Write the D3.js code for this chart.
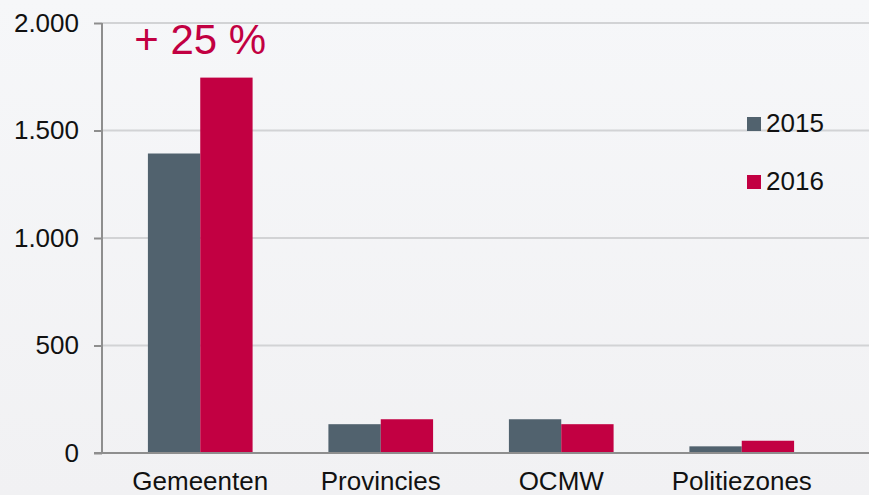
<!DOCTYPE html>
<html>
<head>
<meta charset="utf-8">
<script src="https://cdn.jsdelivr.net/npm/d3@7"></script>
<style>
  html, body { margin: 0; padding: 0; background: #f4f5f7; }
  svg { display: block; font-family: "Liberation Sans", Arial, sans-serif; }
</style>
</head>
<body>
<svg id="chart" width="869" height="495"></svg>
<script>
const categories = ['Gemeenten', 'Provincies', 'OCMW', 'Politiezones'];
const years = ['2015', '2016'];
const values2015 = [1393, 134, 157, 31];
const values2016 = [1746, 157, 134, 57];
const yTicks = [0, 500, 1000, 1500, 2000];
const yTickLabels = ['0', '500', '1.000', '1.500', '2.000'];
const annotation = '+ 25 %';

const colors = { '2015': '#51626e', '2016': '#c20042' };

const width = 869;
const height = 495;
const axisX = 102;

const svg = d3.select('#chart');

// Background
const defs = svg.append('defs');
const grad = defs.append('linearGradient')
  .attr('id', 'bg')
  .attr('x1', 0).attr('y1', 0).attr('x2', 0).attr('y2', 1);
grad.append('stop').attr('offset', '0%').attr('stop-color', '#f6f7f9');
grad.append('stop').attr('offset', '100%').attr('stop-color', '#f1f1f3');
svg.append('rect')
  .attr('width', width).attr('height', height)
  .attr('fill', 'url(#bg)');

const y = d3.scaleLinear()
  .domain([0, 2000])
  .range([453, 23]);

const x0 = d3.scaleBand()
  .domain(categories)
  .range([110, 832])
  .paddingInner(0.42)
  .paddingOuter(0.21);

const x1 = d3.scaleBand()
  .domain(years)
  .range([0, x0.bandwidth()]);

// Gridlines
svg.append('g')
  .selectAll('line')
  .data(yTicks.filter((d) => d > 0))
  .join('line')
  .attr('x1', axisX)
  .attr('x2', width)
  .attr('y1', (d) => y(d))
  .attr('y2', (d) => y(d))
  .attr('stroke', '#d2d3d5')
  .attr('stroke-width', 2);

// Bars
const rows = categories.map((c, i) => ({
  category: c,
  values: [
    { year: '2015', value: values2015[i] },
    { year: '2016', value: values2016[i] },
  ],
}));

svg.append('g')
  .selectAll('g')
  .data(rows)
  .join('g')
  .attr('transform', (d) => `translate(${x0(d.category)},0)`)
  .selectAll('rect')
  .data((d) => d.values)
  .join('rect')
  .attr('x', (d) => x1(d.year))
  .attr('y', (d) => y(d.value))
  .attr('width', x1.bandwidth())
  .attr('height', (d) => y(0) - y(d.value))
  .attr('fill', (d) => colors[d.year]);

// Y axis
const yAxis = svg.append('g')
  .attr('transform', `translate(${axisX},0)`)
  .call(d3.axisLeft(y)
    .tickValues(yTicks)
    .tickFormat((d, i) => yTickLabels[i])
    .tickSize(8)
    .tickPadding(15));
yAxis.select('.domain').attr('stroke', '#8e8e8e').attr('stroke-width', 2)
  .attr('d', `M0,${y(2000)}V${y(0)}`);
yAxis.selectAll('.tick line').attr('stroke', '#8e8e8e').attr('stroke-width', 2);
yAxis.selectAll('.tick text')
  .attr('fill', '#111')
  .attr('font-size', 26)
  .attr('font-family', '"Liberation Sans", Arial, sans-serif');

// X axis baseline and labels
svg.append('line')
  .attr('x1', axisX - 8)
  .attr('x2', width)
  .attr('y1', y(0))
  .attr('y2', y(0))
  .attr('stroke', '#8e8e8e')
  .attr('stroke-width', 2);

svg.append('g')
  .selectAll('text')
  .data(categories)
  .join('text')
  .attr('x', (d) => x0(d) + x0.bandwidth() / 2)
  .attr('y', 490)
  .attr('text-anchor', 'middle')
  .attr('font-size', 26)
  .attr('fill', '#111')
  .text((d) => d);

// Annotation
svg.append('text')
  .attr('x', x0('Gemeenten') + x0.bandwidth() / 2)
  .attr('y', 54)
  .attr('text-anchor', 'middle')
  .attr('font-size', 42)
  .attr('fill', colors['2016'])
  .text(annotation);

// Legend
const legend = svg.append('g')
  .selectAll('g')
  .data(years)
  .join('g')
  .attr('transform', (d, i) => `translate(747,${117 + i * 58})`);
legend.append('rect')
  .attr('width', 14)
  .attr('height', 14)
  .attr('fill', (d) => colors[d]);
legend.append('text')
  .attr('x', 19)
  .attr('y', 15)
  .attr('font-size', 26)
  .attr('fill', '#111')
  .text((d) => d);
</script>
</body>
</html>
